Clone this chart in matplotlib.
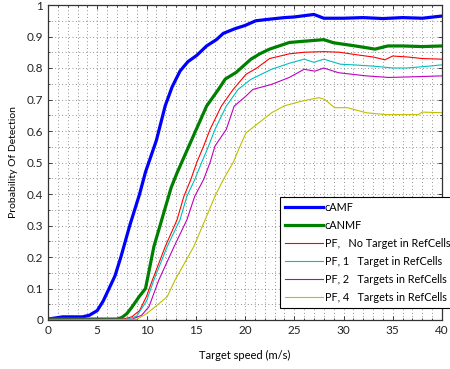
import matplotlib
matplotlib.use("Agg")
import matplotlib.pyplot as plt
from matplotlib.ticker import MultipleLocator

plt.rcParams['font.family'] = ['Lato', 'DejaVu Sans']

# ---- data ----
camf_x = [0, 1.5, 3.5, 4.2, 5, 5.6, 6.2, 6.8, 7.4, 8.3, 9.3, 9.9, 11.0, 11.9, 12.6, 13.4, 14.2,
          15.1, 16.1, 17.1, 17.8, 19.0, 20.0, 21.1, 22.5, 24, 25, 26, 27, 28, 30, 32, 34, 36, 38, 40]
camf_y = [0.003, 0.01, 0.01, 0.015, 0.03, 0.06, 0.1, 0.14, 0.2, 0.3, 0.4, 0.47, 0.57, 0.68, 0.74,
          0.79, 0.82, 0.84, 0.87, 0.89, 0.91, 0.925, 0.935, 0.95, 0.955, 0.96, 0.962, 0.966, 0.97,
          0.958, 0.958, 0.96, 0.957, 0.96, 0.958, 0.965]

canmf_x = [0, 7.0, 7.5, 8.0, 8.5, 9.25, 9.9, 10.75, 11.75, 12.5, 13.1, 14.6, 16.1, 17.3, 18.0,
           19.1, 20.6, 21.5, 22.5, 24.5, 26, 28, 29, 31.2, 33.2, 34.5, 36, 38, 40]
canmf_y = [0.003, 0.003, 0.008, 0.02, 0.04, 0.074, 0.1, 0.233, 0.34, 0.42, 0.467, 0.573, 0.679,
           0.732, 0.765, 0.786, 0.828, 0.845, 0.86, 0.881, 0.885, 0.89, 0.88, 0.87, 0.86, 0.87,
           0.87, 0.868, 0.87]

pf0_x = [0, 7.5, 8.5, 9.3, 10, 10.6, 11.9, 13.1, 13.8, 14.5, 15.1, 15.8, 16.45, 17.6, 18.8,
         20.1, 21.2, 22.5, 24.5, 26, 28, 29.6, 31.8, 33, 34.2, 35, 36.5, 38, 40]
pf0_y = [0.002, 0.002, 0.01, 0.03, 0.075, 0.127, 0.233, 0.318, 0.393, 0.446, 0.5, 0.552, 0.605,
         0.679, 0.732, 0.78, 0.80, 0.83, 0.845, 0.85, 0.852, 0.85, 0.84, 0.835, 0.826, 0.838,
         0.835, 0.83, 0.828]

pf1_x = [0, 8, 9, 10, 10.75, 12.1, 13.4, 14.1, 14.9, 15.6, 16.3, 16.95, 18.1, 19.3, 20.6, 22.7,
         24.5, 26, 27, 28, 29.7, 31, 33, 35, 36.4, 38.7, 40]
pf1_y = [0.002, 0.002, 0.012, 0.06, 0.127, 0.233, 0.318, 0.393, 0.446, 0.5, 0.552, 0.605, 0.679,
         0.732, 0.764, 0.796, 0.815, 0.828, 0.818, 0.828, 0.812, 0.81, 0.806, 0.80, 0.80, 0.806,
         0.81]

pf2_x = [0, 8.5, 9.5, 10.25, 11.25, 12.8, 14.1, 14.9, 15.8, 16.45, 16.95, 18.1, 18.9, 20.1, 20.8,
         22.7, 24.5, 26, 27.1, 28, 29.5, 32.3, 34.6, 37, 40]
pf2_y = [0.002, 0.002, 0.015, 0.042, 0.127, 0.233, 0.318, 0.393, 0.446, 0.5, 0.552, 0.605, 0.679,
         0.711, 0.732, 0.748, 0.77, 0.796, 0.79, 0.80, 0.785, 0.775, 0.77, 0.772, 0.775]

pf4_x = [0, 9, 10, 11, 12.1, 12.9, 14.8, 15.95, 16.95, 17.8, 18.8, 19.5, 20.1, 21, 22.7, 24,
         25.8, 27.5, 28.1, 29.1, 30.4, 32.3, 34.3, 37.6, 38, 40]
pf4_y = [0.0, 0.002, 0.02, 0.045, 0.074, 0.127, 0.233, 0.318, 0.393, 0.446, 0.5, 0.552, 0.594,
         0.616, 0.658, 0.68, 0.695, 0.706, 0.70, 0.674, 0.674, 0.658, 0.652, 0.652, 0.66, 0.658]

labels = ["cAMF", "cANMF",
          "PF,   No Target in RefCells",
          "PF, 1   Target in RefCells",
          "PF, 2   Targets in RefCells",
          "PF, 4   Targets in RefCells"]
colors = ["#0000ff", "#008000", "#ff0000", "#00bfbf", "#bf00bf", "#bfbf00"]
widths = [2.3, 2.3, 0.8, 0.8, 0.8, 0.8]

xticks = [0, 5, 10, 15, 20, 25, 30, 35, 40]
yticks = [0, 0.1, 0.2, 0.3, 0.4, 0.5, 0.6, 0.7, 0.8, 0.9, 1]
yticklabels = ["0", "0.1", "0.2", "0.3", "0.4", "0.5", "0.6", "0.7", "0.8", "0.9", "1"]

# ---- figure ----
fig = plt.figure(figsize=(4.5, 3.69), dpi=100)
ax_w = 394
ax = fig.add_axes([48 / 450, 1 - 320 / 369, ax_w / 450, 315 / 369])

series = [(camf_x, camf_y), (canmf_x, canmf_y), (pf0_x, pf0_y),
          (pf1_x, pf1_y), (pf2_x, pf2_y), (pf4_x, pf4_y)]
handles = []
for (xs, ys), c, w, lab in zip(series, colors, widths, labels):
    h, = ax.plot(xs, ys, color=c, lw=w, label=lab, solid_joinstyle='round')
    handles.append(h)

ax.set_xlim(0, 40)
ax.set_ylim(0, 1)
ax.set_xticks(xticks)
ax.set_yticks(yticks)
ax.set_yticklabels(yticklabels)
ax.xaxis.set_minor_locator(MultipleLocator(1))
ax.yaxis.set_minor_locator(MultipleLocator(0.05))
ax.grid(True, which='both', color='#555555', linestyle=(0, (1, 3.5)), linewidth=0.55)
ax.set_axisbelow(True)
ax.tick_params(which='both', direction='in', top=True, right=True, labelsize=8.5,
               colors='#222222', length=3, width=0.6)
ax.tick_params(which='minor', length=1.5)
for s in ax.spines.values():
    s.set_color('#333333')
    s.set_linewidth(0.9)

ax.set_xlabel("Target speed (m/s)", fontsize=8, labelpad=10)
ax.set_ylabel("Probability Of Detection", fontsize=7.5, labelpad=6)

leg = ax.legend(handles=handles, loc='upper left', bbox_to_anchor=(232 / ax_w, 123 / 315),
                borderaxespad=0, fontsize=7.8, frameon=True, fancybox=False,
                edgecolor='black', framealpha=1, handlelength=3.5, handletextpad=0.2,
                labelspacing=0.65, borderpad=0.45)
leg.get_frame().set_linewidth(0.8)

fig.savefig("out.png", dpi=100)
